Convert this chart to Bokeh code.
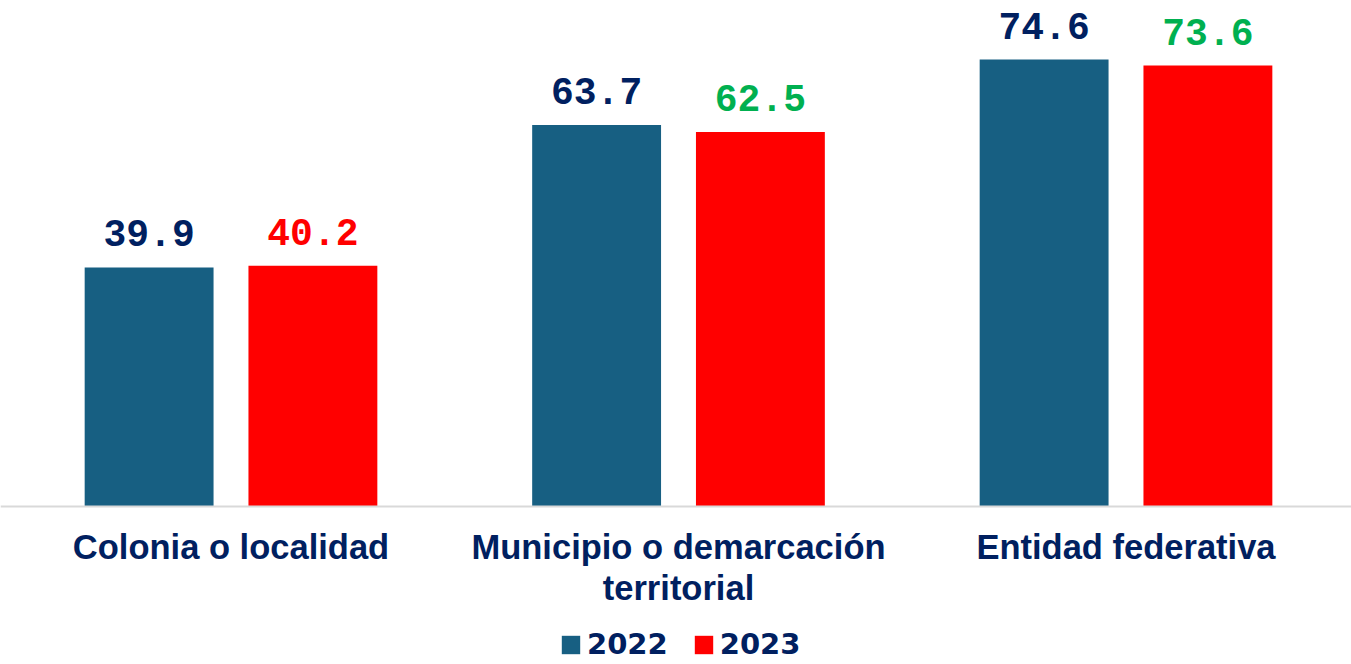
from bokeh.plotting import figure
from bokeh.models import ColumnDataSource, LabelSet, Legend, LegendItem, Range1d, Span
from bokeh.core.properties import value
from bokeh.embed import file_html
from bokeh.resources import INLINE

categories = ["Colonia o localidad", "Municipio o demarcación\nterritorial", "Entidad federativa"]
series = ["2022", "2023"]
values_2022 = [39.9, 63.7, 74.6]
values_2023 = [40.2, 62.5, 73.6]

NAVY = "#002060"
BLUE = "#175F82"
RED = "#FF0000"
GREEN = "#00B050"

idx = [i + 0.5 for i in range(len(categories))]
off = 0.183
bw = 0.288

p = figure(width=1351, height=664, output_backend="svg", toolbar_location=None,
           x_range=Range1d(-0.0151, 3.0039), y_range=Range1d(-26.38, 84.47),
           min_border_left=0, min_border_right=0, min_border_top=0, min_border_bottom=0)
p.outline_line_color = None
p.grid.visible = False
p.yaxis.visible = False
p.xaxis.visible = False

p.add_layout(Span(location=0, dimension="width", line_color="#D9D9D9", line_width=2))

s22 = ColumnDataSource(dict(x=[v - off for v in idx], top=values_2022,
                            lab=[f"{v:.1f}" for v in values_2022]))
c23 = [RED if b > a else GREEN for a, b in zip(values_2022, values_2023)]
s23 = ColumnDataSource(dict(x=[v + off for v in idx], top=values_2023,
                            lab=[f"{v:.1f}" for v in values_2023], col=c23))

r22 = p.vbar(x="x", top="top", width=bw, source=s22, fill_color=BLUE, line_color=None)
r23 = p.vbar(x="x", top="top", width=bw, source=s23, fill_color=RED, line_color=None)

lab_font = value("Liberation Mono")
p.add_layout(LabelSet(x="x", y="top", text="lab", source=s22, text_align="center",
                      text_baseline="alphabetic", y_offset=21, text_color=NAVY,
                      text_font=lab_font, text_font_style="bold", text_font_size="38px"))
p.add_layout(LabelSet(x="x", y="top", text="lab", source=s23, text_align="center",
                      text_baseline="alphabetic", y_offset=21, text_color="col",
                      text_font=lab_font, text_font_style="bold", text_font_size="38px"))

# category labels, one centred LabelSet per text line
split = [c.split("\n") for c in categories]
for k in range(max(len(s) for s in split)):
    xs = [x for x, s in zip(idx, split) if len(s) > k]
    ts = [s[k] for s in split if len(s) > k]
    src = ColumnDataSource(dict(x=xs, y=[0] * len(xs), name=ts))
    p.add_layout(LabelSet(x="x", y="y", text="name", source=src, text_align="center",
                          text_baseline="top", y_offset=-22 - 41 * k, text_color=NAVY,
                          text_font=value("Liberation Sans"), text_font_style="bold",
                          text_font_size="34.5px"))

legend = Legend(items=[LegendItem(label=series[0], renderers=[r22]),
                       LegendItem(label=series[1], renderers=[r23])],
                orientation="horizontal", location=(559, 3),
                glyph_width=23, glyph_height=23, label_standoff=5, spacing=24,
                padding=0, margin=0, border_line_color=None, background_fill_alpha=0,
                label_text_font="DejaVu Sans", label_text_font_style="bold",
                label_text_font_size="29px", label_text_color=NAVY)
p.add_layout(legend, "center")

open("out.html", "w").write(file_html(p, INLINE))
